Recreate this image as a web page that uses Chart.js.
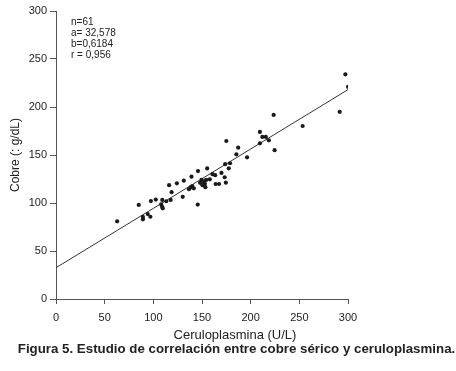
<!DOCTYPE html>
<html>
<head>
<meta charset="utf-8">
<script src="https://cdn.jsdelivr.net/npm/chart.js@4.4.1/dist/chart.umd.min.js"></script>
<style>
  html, body { margin: 0; padding: 0; background: #fff; }
  #wrap { position: relative; width: 456px; height: 371px; }
  #chart { position: absolute; left: 0; top: 0; }
  #stats { position: absolute; left: 71px; top: 16px; font: 10px 'Liberation Sans', Arial, sans-serif; line-height: 11px; color: #222; }
  #xtitle { position: absolute; left: 135px; top: 327px; width: 200px; text-align: center; white-space: nowrap;
    font: 13px 'Liberation Sans', Arial, sans-serif; line-height: 15px; color: #222; }
  #caption { position: absolute; left: 8px; top: 341px; width: 457px; text-align: center; white-space: nowrap;
    font: bold 13.3px 'Liberation Sans', Arial, sans-serif; line-height: 15px; color: #222; }
</style>
</head>
<body>
<div id="wrap">
  <canvas id="chart" width="456" height="371"></canvas>
  <div id="stats">n=61<br>a= 32,578<br>b=0,6184<br>r = 0,956</div>
  <div id="xtitle">Ceruloplasmina (U/L)</div>
  <div id="caption">Figura 5. Estudio de correlación entre cobre sérico y ceruloplasmina.</div>
</div>
<script>
// ceruloplasmina (U/L) vs cobre (µg/dL)
const ceruloplasmina = [62.8, 85, 89.3, 89.3, 94.3, 97, 97.5, 102.5, 108, 109, 109.7, 109.2, 113.3,
  116.2, 118.8, 117.8, 124.2, 130.2, 131.3, 136.6, 138.2, 140, 141.6, 139.2, 145.6, 145.9,
  148, 149.5, 150.5, 152, 153, 154.3, 153.5, 155.3, 158, 160.8, 163.5, 164, 167.5, 170, 173.3,
  174.5, 173.8, 177.5, 175, 178.8, 185.3, 187.2, 196.3, 209.5, 209.5, 212, 215.6, 218.7,
  223.6, 224.6, 253.4, 291.5, 297.3, 300, 151];
const cobre = [80.9, 98, 85.5, 83, 88.5, 85.7, 102, 103.6, 98.6, 96, 94.5, 103.2, 101.8,
  118.6, 111.3, 103.2, 120.5, 106.4, 123.3, 114.3, 116.2, 117.7, 115.3, 127.4, 98.4, 133.3,
  121, 124, 118.5, 122.5, 120, 124, 116.5, 136, 124.7, 130, 129, 119.8, 119.8, 131.3, 126.8,
  121.2, 140.4, 136.1, 164.6, 141.4, 150.7, 157.6, 147.6, 174, 162.2, 168.8, 168.8, 165.3,
  191.7, 155, 180.2, 195, 234, 221, 119];
const axisTicks = [0, 50, 100, 150, 200, 250, 300];
const intercept = 32.578;
const slope = 0.6184;

const points = ceruloplasmina.map((x, i) => ({ x: x, y: cobre[i] }));
const fitLine = [0, 300].map(x => ({ x: x, y: intercept + slope * x }));

const ink = '#222';
const axisColor = '#555';
const family = "'Liberation Sans', Arial, sans-serif";

const ctx = document.getElementById('chart').getContext('2d');
new Chart(ctx, {
  type: 'scatter',
  data: {
    datasets: [
      {
        data: points,
        pointRadius: 2.1,
        pointBackgroundColor: '#1a1a1a',
        pointBorderWidth: 0
      },
      {
        type: 'line',
        data: fitLine,
        borderColor: '#333',
        borderWidth: 1,
        pointRadius: 0,
        fill: false
      }
    ]
  },
  options: {
    responsive: false,
    animation: false,
    devicePixelRatio: 1,
    layout: { padding: { left: 0, top: 11, right: 108, bottom: 27 } },
    plugins: { legend: { display: false }, tooltip: { enabled: false } },
    scales: {
      x: {
        type: 'linear',
        min: 0,
        max: 300,
        afterBuildTicks: s => { s.ticks = axisTicks.map(v => ({ value: v })); },
        afterFit: s => { s.height = 45; },
        ticks: { color: ink, font: { family: family, size: 11 }, padding: 7, maxRotation: 0 },
        grid: { drawOnChartArea: false, tickLength: 5, color: axisColor },
        border: { color: axisColor }
      },
      y: {
        min: 0,
        max: 300,
        afterBuildTicks: s => { s.ticks = axisTicks.map(v => ({ value: v })); },
        afterFit: s => { s.width = 56; },
        ticks: { color: ink, font: { family: family, size: 11 }, padding: 3 },
        grid: { drawOnChartArea: false, tickLength: 6, color: axisColor },
        border: { color: axisColor },
        title: { display: true, text: 'Cobre (: g/dL)', color: ink,
          font: { family: family, size: 12 }, padding: { top: 8, bottom: 0 } }
      }
    }
  }
});
</script>
</body>
</html>
